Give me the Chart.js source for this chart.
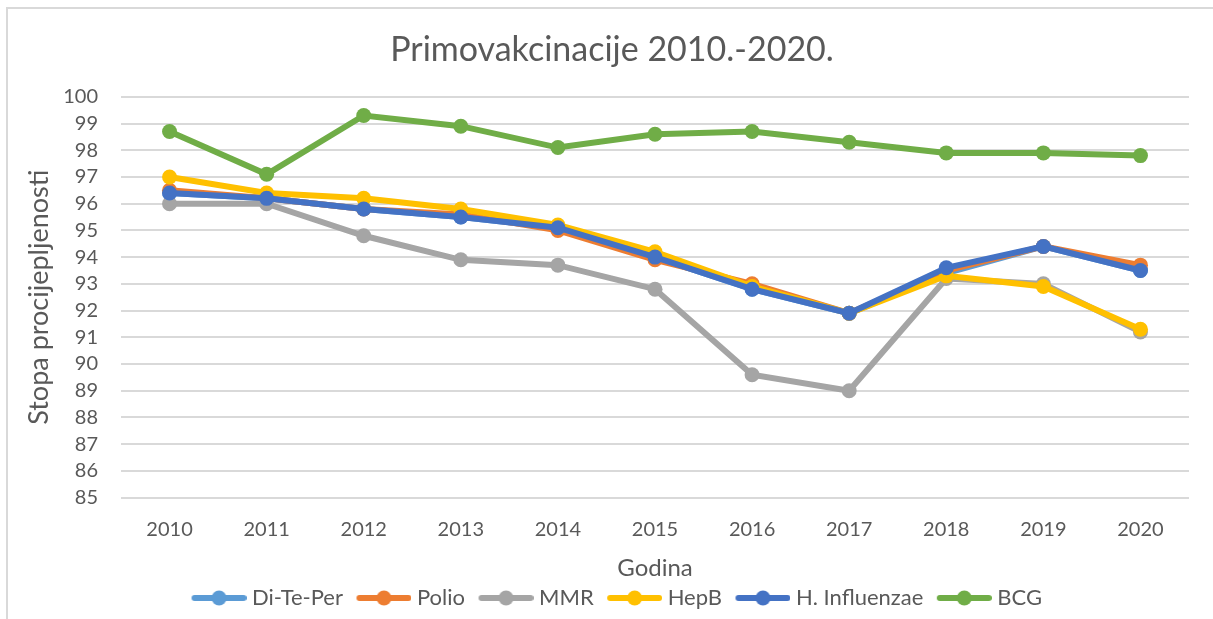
<!DOCTYPE html>
<html>
<head>
<meta charset="utf-8">
<script src="https://cdn.jsdelivr.net/npm/chart.js@4"></script>
<style>
body { margin: 0; background: #fff; }
#okvir { position: absolute; left: 6px; top: 7px; width: 1230px; height: 640px; border: 2px solid #d9d9d9; box-sizing: border-box; pointer-events: none; }
#chart { position: absolute; left: 0; top: 0; }
</style>
</head>
<body>
<canvas id="chart" width="1213" height="619"></canvas>
<div id="okvir"></div>
<script>
// podaci s grafa
const godine = ["2010", "2011", "2012", "2013", "2014", "2015", "2016", "2017", "2018", "2019", "2020"];
const diTePer = [96.4, 96.2, 95.8, 95.5, 95.1, 94.0, 92.8, 91.9, 93.4, 94.4, 93.5];
const polio = [96.5, 96.2, 95.8, 95.6, 95.0, 93.9, 93.0, 91.9, 93.5, 94.4, 93.7];
const mmr = [96.0, 96.0, 94.8, 93.9, 93.7, 92.8, 89.6, 89.0, 93.2, 93.0, 91.2];
const hepB = [97.0, 96.4, 96.2, 95.8, 95.2, 94.2, 92.9, 91.9, 93.3, 92.9, 91.3];
const hInfluenzae = [96.4, 96.2, 95.8, 95.5, 95.1, 94.0, 92.8, 91.9, 93.6, 94.4, 93.5];
const bcg = [98.7, 97.1, 99.3, 98.9, 98.1, 98.6, 98.7, 98.3, 97.9, 97.9, 97.8];

const font = "Lato, 'Open Sans', sans-serif";
const siva = "#595959";

// ikona za legendu: crta s tockom (lijevo prazan razmak)
function ikona(boja) {
  const c = document.createElement("canvas");
  c.width = 70; c.height = 16;
  const g = c.getContext("2d");
  g.strokeStyle = boja; g.lineWidth = 6; g.lineCap = "round";
  g.beginPath(); g.moveTo(18, 8); g.lineTo(67, 8); g.stroke();
  g.fillStyle = boja;
  g.beginPath(); g.arc(42.5, 8, 7.5, 0, Math.PI * 2); g.fill();
  return c;
}

function serija(naziv, podaci, boja, red) {
  return {
    label: naziv,
    data: podaci,
    borderColor: boja,
    backgroundColor: boja,
    borderWidth: 6,
    pointRadius: 7.5,
    pointHoverRadius: 7.5,
    pointBorderWidth: 0,
    pointStyle: "circle",
    tension: 0,
    order: red
  };
}

const datasets = [
  serija("Di-Te-Per", diTePer, "#5b9bd5", 6),
  serija("Polio", polio, "#ed7d31", 5),
  serija("MMR", mmr, "#a5a5a5", 4),
  serija("HepB", hepB, "#ffc000", 3),
  serija("H. Influenzae", hInfluenzae, "#4472c4", 2),
  serija("BCG", bcg, "#70ad47", 1)
];
const ikone = datasets.map(d => ikona(d.borderColor));

new Chart(document.getElementById("chart"), {
  type: "line",
  data: { labels: godine, datasets: datasets },
  options: {
    responsive: false,
    animation: false,
    layout: { padding: { left: 35, right: 24, top: 0, bottom: 0 } },
    plugins: {
      title: {
        display: true,
        text: "Primovakcinacije 2010.-2020.",
        color: siva,
        font: { family: font, size: 34, weight: "normal" },
        padding: { top: 30, bottom: 26 }
      },
      legend: {
        position: "bottom",
        labels: {
          color: siva,
          font: { family: font, size: 22 },
          usePointStyle: true,
          pointStyleWidth: 59,
          boxHeight: 16,
          padding: 4,
          generateLabels: chart => chart.data.datasets.map((d, i) => ({
            text: d.label,
            pointStyle: ikone[i],
            fontColor: siva,
            datasetIndex: i,
            lineWidth: 0
          }))
        }
      },
      tooltip: { enabled: false }
    },
    scales: {
      x: {
        offset: true,
        afterFit: s => { s.height = 85.4; },
        grid: { display: false, drawTicks: false },
        border: { display: false },
        ticks: { color: siva, font: { family: font, size: 20 }, padding: 20 },
        title: { display: true, text: "Godina", color: siva, font: { family: font, size: 24 }, padding: { top: 15, bottom: 0 } }
      },
      y: {
        min: 85,
        max: 100,
        afterFit: s => { s.width = 86; },
        ticks: { stepSize: 1, autoSkip: false, color: siva, font: { family: font, size: 20 }, padding: 23 },
        grid: { color: "#d9d9d9", lineWidth: 2, drawTicks: false },
        border: { display: false },
        title: { display: true, text: "Stopa procijepljenosti", color: siva, font: { family: font, size: 27 }, padding: { top: -12, bottom: 0 } }
      }
    }
  }
});
</script>
</body>
</html>
